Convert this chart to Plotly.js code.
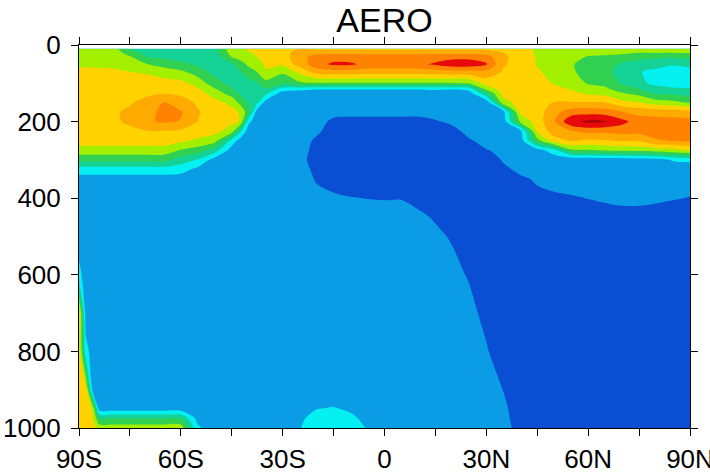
<!DOCTYPE html>
<html><head><meta charset="utf-8">
<script src="https://cdn.plot.ly/plotly-3.0.1.min.js"></script>
<style>html,body{margin:0;padding:0;background:#fff}</style>
</head><body>
<div id="chart" style="width:710px;height:475px"></div>
<script>
// Latitudes (deg, negative = S) and pressure levels (hPa)
const lat = [-90,-88,-86,-84,-80,-75,-70,-65,-60,-55,-50,-45,-42.5,-40,-37.5,-35,-30,-25,-20,-15,-10,-5,0,5,10,15,20,25,30,35,40,45,50,55,60,65,70,75,80,85,90];
const pressure = [10,20,30,50,70,100,115,125,150,175,200,225,250,275,300,325,350,400,450,500,600,700,800,900,950,975,1000];

// One vertical profile per latitude (band units)
const p90S = [5.5,5.6,5.7,5.85,6.2,6.5,6.6,6.6,6.7,6.7,6.7,6.6,6.45,5.6,4.3,2.5,1.6,1.5,1.5,1.5,2.3,6.6,6.7,6.7,6.7,6.7,6.7];
const p88S = [5.5,5.6,5.7,5.85,6.2,6.5,6.6,6.6,6.7,6.7,6.7,6.6,6.45,5.6,4.3,2.5,1.6,1.5,1.5,1.5,1.5,1.5,2.4,6.4,6.6,6.6,6.6];
const p86S = [5.5,5.6,5.7,5.85,6.2,6.5,6.6,6.65,6.75,6.75,6.75,6.65,6.45,5.6,4.3,2.5,1.6,1.5,1.5,1.5,1.5,1.5,1.5,1.8,5.9,6.2,6.4];
const p84S = [5.45,5.55,5.65,5.8,6.2,6.5,6.6,6.65,6.8,6.8,6.8,6.65,6.45,5.6,4.3,2.5,1.6,1.5,1.5,1.5,1.5,1.5,1.5,1.5,1.5,4.0,5.6];
const p80S = [5.4,5.5,5.6,5.8,6.15,6.5,6.6,6.65,6.8,6.85,6.85,6.7,6.45,5.6,4.3,2.5,1.6,1.5,1.5,1.5,1.5,1.5,1.5,1.5,1.5,4.0,5.6];
const p75S = [4.0,4.6,5.05,5.55,6.0,6.4,6.55,6.65,6.9,7.2,7.15,6.8,6.45,5.6,4.3,2.5,1.6,1.5,1.5,1.5,1.5,1.5,1.5,1.5,1.5,4.0,5.6];
const p70S = [3.4,3.6,3.9,5.02,5.9,6.35,6.6,6.8,7.3,7.6,7.9,6.95,6.45,5.6,4.3,2.5,1.6,1.5,1.5,1.5,1.5,1.5,1.5,1.5,1.5,4.0,5.6];
const p65S = [3.3,3.5,3.75,4.6,5.55,6.35,6.7,6.9,8.05,8.3,8.1,6.95,6.45,5.6,4.3,2.5,1.6,1.5,1.5,1.5,1.5,1.5,1.5,1.5,1.5,4.0,5.6];
const p60S = [3.2,3.4,3.6,4.2,5.2,6.3,6.6,6.8,7.4,8.1,7.95,6.8,6.2,4.9,3.5,2.4,1.5,1.5,1.5,1.5,1.5,1.5,1.5,1.5,1.5,4.0,5.6];
const p55S = [3.1,3.2,3.4,3.85,4.5,5.6,6.1,6.4,6.85,7.1,6.98,6.6,5.8,4.5,2.9,1.7,1.5,1.5,1.5,1.5,1.5,1.5,1.5,1.5,1.5,1.6,2.2];
const p50S = [3.9,3.6,3.45,3.4,3.7,4.4,5.1,5.5,6.3,6.5,6.5,6.3,5.4,3.5,1.5,1.5,1.5,1.5,1.5,1.5,1.5,1.5,1.5,1.5,1.5,1.5,1.5];
const p45S = [5.6,5.4,5.1,3.8,3.5,3.7,4.1,4.5,5.7,6.3,6.25,5.5,2.6,1.5,1.5,1.5,1.5,1.5,1.5,1.5,1.5,1.5,1.5,1.5,1.5,1.5,1.5];
const p42S = [5.85,5.65,5.4,4.6,3.95,3.5,3.6,3.8,4.7,5.9,5.95,3.2,1.5,1.5,1.5,1.5,1.5,1.5,1.5,1.5,1.5,1.5,1.5,1.5,1.5,1.5,1.5];
const p40S = [6.1,5.95,5.7,5.2,4.6,3.6,3.4,3.5,3.9,4.3,2.2,1.4,1.5,1.5,1.5,1.5,1.5,1.5,1.5,1.5,1.5,1.5,1.5,1.5,1.5,1.5,1.5];
const p37S = [6.2,6.1,6.02,5.6,5.02,3.9,3.6,3.5,3.2,1.5,1.5,1.5,1.5,1.5,1.5,1.5,1.5,1.5,1.5,1.5,1.5,1.5,1.5,1.5,1.5,1.5,1.5];
const p35S = [6.3,6.3,6.25,6.15,5.9,4.6,3.9,3.3,1.6,1.5,1.5,1.5,1.5,1.5,1.5,1.5,1.5,1.5,1.5,1.5,1.5,1.5,1.5,1.5,1.5,1.5,1.5];
const p30S = [6.5,6.55,6.5,6.2,5.2,4.1,2.6,1.6,1.5,1.5,1.5,1.5,1.5,1.5,1.5,1.5,1.5,1.5,1.5,1.5,1.5,1.5,1.5,1.5,1.5,1.6,1.7];
const p25S = [7.05,7.5,7.7,7.4,6.3,4.8,2.3,1.5,1.5,1.5,1.5,1.5,1.5,1.5,1.3,1.5,1.5,1.5,1.5,1.5,1.5,1.5,1.5,1.5,1.7,1.85,1.95];
const p20S = [6.8,7.6,8.3,8.6,7.5,4.9,2.1,1.3,1.4,1.4,1.35,1.2,0.8,0.6,0.6,0.7,0.9,1.3,1.5,1.5,1.5,1.5,1.5,1.5,1.98,2.3,2.5];
const p15S = [6.8,7.6,8.5,9.2,7.6,4.9,2.1,1.3,1.35,1.3,0.8,0.5,0.5,0.5,0.5,0.5,0.5,1.2,1.5,1.5,1.5,1.5,1.5,1.5,2.05,2.3,2.5];
const p10S = [6.8,7.6,8.5,9.15,7.6,4.9,2.1,1.3,1.35,1.3,0.7,0.4,0.4,0.4,0.4,0.4,0.4,1.05,1.4,1.5,1.5,1.5,1.5,1.5,1.9,2.15,2.3];
const p05S = [6.8,7.6,8.4,8.7,7.5,4.9,2.1,1.3,1.35,1.3,0.7,0.4,0.4,0.4,0.4,0.4,0.4,0.98,1.4,1.5,1.5,1.5,1.5,1.5,1.6,1.8,1.95];
const pEq  = [6.8,7.6,8.4,8.7,7.5,4.9,2.1,1.3,1.35,1.3,0.7,0.4,0.4,0.4,0.4,0.4,0.4,0.95,1.4,1.5,1.5,1.5,1.5,1.5,1.5,1.55,1.6];
const p05N = [6.8,7.6,8.4,8.7,7.5,4.9,2.1,1.3,1.35,1.3,0.7,0.4,0.4,0.4,0.4,0.4,0.4,0.95,1.5,1.5,1.5,1.5,1.5,1.5,1.5,1.5,1.5];
const p10N = [6.8,7.6,8.4,8.75,7.5,4.9,2.1,1.3,1.35,1.3,0.7,0.4,0.4,0.4,0.4,0.4,0.4,0.7,1.2,1.5,1.5,1.5,1.5,1.5,1.5,1.5,1.5];
const p15N = [6.8,7.6,8.5,9.15,7.6,4.9,2.2,1.4,1.4,1.4,0.9,0.5,0.4,0.4,0.4,0.4,0.4,0.4,0.9,1.2,1.5,1.5,1.5,1.5,1.5,1.5,1.5];
const p20N = [6.8,7.6,8.6,9.6,7.7,4.9,2.1,1.4,1.4,1.4,1.2,0.7,0.4,0.4,0.4,0.4,0.4,0.4,0.4,0.9,1.3,1.5,1.5,1.5,1.5,1.5,1.5];
const p25N = [6.8,7.6,8.6,9.6,7.7,5.05,2.4,1.6,1.4,1.4,1.4,1.3,0.9,0.4,0.4,0.4,0.4,0.4,0.4,0.4,0.9,1.3,1.5,1.5,1.5,1.5,1.5];
const p30N = [6.8,7.5,8.4,9.1,7.7,6.4,5.3,3.95,1.3,1.4,1.4,1.4,1.3,0.95,0.4,0.4,0.4,0.4,0.4,0.4,0.4,0.7,1.1,1.4,1.4,1.4,1.4];
const p35N = [6.8,7.0,7.15,7.1,6.9,6.6,6.5,6.4,5.6,1.6,1.4,1.4,1.3,1.2,1.1,0.8,0.4,0.4,0.4,0.4,0.4,0.4,0.4,0.98,1.2,1.25,1.3];
const p40N = [6.6,6.6,6.6,6.6,6.6,6.6,6.55,6.5,6.4,6.2,5.2,1.6,1.4,1.3,1.25,1.2,0.85,0.4,0.4,0.4,0.4,0.4,0.4,0.4,0.5,0.6,0.7];
const p45N = [5.8,5.85,5.9,5.95,6.1,6.3,6.4,6.45,6.5,6.5,6.45,6.2,4.6,1.5,1.3,1.2,1.1,0.8,0.4,0.4,0.4,0.4,0.4,0.4,0.4,0.4,0.4];
const p50N = [5.5,5.5,5.55,5.6,5.7,5.95,6.2,6.4,7.05,7.7,7.95,7.5,6.5,2.6,1.3,1.4,1.4,0.8,0.4,0.4,0.4,0.4,0.4,0.4,0.4,0.4,0.4];
const p55N = [5.4,5.3,5.15,5.1,5.2,5.6,5.95,6.2,7.05,8.5,9.8,7.9,7.1,4.8,1.1,1.4,1.5,0.9,0.4,0.4,0.4,0.4,0.4,0.4,0.4,0.4,0.4];
const p60N = [5.3,5.15,4.98,4.6,4.5,4.9,5.45,5.8,7.05,8.6,10.2,8.3,6.8,4.9,1.2,1.4,1.5,1.02,0.6,0.4,0.4,0.4,0.4,0.4,0.4,0.4,0.4];
const p65N = [5.25,5.1,4.95,4.5,4.3,4.7,5.2,5.6,7.02,8.5,10.1,8.2,6.9,5.05,1.3,1.4,1.5,1.1,0.7,0.4,0.4,0.4,0.4,0.4,0.4,0.4,0.4];
const p70N = [5.4,5.2,4.7,3.8,3.6,3.9,4.5,5.02,6.3,8.05,9.3,8.4,7.1,5.2,1.3,1.4,1.5,1.2,0.7,0.4,0.4,0.4,0.4,0.4,0.4,0.4,0.4];
const p75N = [5.3,5.02,4.5,3.4,3.05,3.2,4.02,4.6,6.02,7.7,8.5,8.4,7.1,5.3,1.4,1.4,1.5,1.2,0.7,0.4,0.4,0.4,0.4,0.4,0.4,0.4,0.4];
const p80N = [5.3,5.05,4.3,3.3,2.8,2.8,3.3,3.8,5.5,7.6,8.4,8.4,7.9,5.5,1.5,1.4,1.45,1.15,0.6,0.4,0.4,0.4,0.4,0.4,0.4,0.4,0.4];
const p85N = [5.35,5.02,4.2,3.1,2.5,2.5,3.2,3.7,5.3,7.5,8.4,8.5,8.05,5.7,2.1,1.4,1.4,1.05,0.6,0.4,0.4,0.4,0.4,0.4,0.4,0.4,0.4];
const p90N = [5.4,5.1,4.4,3.3,2.6,2.5,3.1,3.55,4.9,7.4,8.3,8.5,8.1,6.05,2.2,1.4,1.3,0.97,0.6,0.4,0.4,0.4,0.4,0.4,0.4,0.4,0.4];

const profiles = [p90S,p88S,p86S,p84S,p80S,p75S,p70S,p65S,p60S,p55S,p50S,p45S,p42S,p40S,p37S,p35S,p30S,p25S,p20S,p15S,p10S,p05S,pEq,p05N,p10N,p15N,p20N,p25N,p30N,p35N,p40N,p45N,p50N,p55N,p60N,p65N,p70N,p75N,p80N,p85N,p90N];

// Contour levels and fill colours (lowest band first)
const levelStart = 1, levelEnd = 10, levelStep = 1;
const bandColors = ['#0a4ed4','#0a9de6','#05f0f0','#14d296','#30d050','#a2f000','#ffd200','#ffaa00','#ff8200','#e80a0a','#a50000'];

// Tick values / labels
const latTickVals = [-90,-75,-60,-45,-30,-15,0,15,30,45,60,75,90];
const latTickText = ['90S','','60S','','30S','','0','','30N','','60N','','90N'];
const presTickVals = [0,200,400,600,800,1000];

const nb = bandColors.length - 1;
const colorscale = [];
bandColors.forEach((c, k) => {
  colorscale.push([Math.max(0, (k - 0.5) / nb), c]);
  colorscale.push([Math.min(1, (k + 0.5) / nb), c]);
});

const font = 'Liberation Sans, Arial, Helvetica, sans-serif';
const trace = {
  type: 'contour',
  x: lat, y: pressure, z: profiles, transpose: true,
  autocontour: false,
  contours: {start: levelStart, end: levelEnd, size: levelStep, coloring: 'fill', showlines: false},
  line: {width: 0, smoothing: 0.9},
  colorscale: colorscale,
  showscale: false,
  hoverinfo: 'skip'
};

const axisCommon = {
  ticks: 'outside', ticklen: 7, tickwidth: 1, tickcolor: '#000',
  showline: true, linecolor: '#000', linewidth: 1, mirror: 'ticks',
  showgrid: false, zeroline: false, ticklabeloverflow: 'allow',
  tickfont: {family: font, size: 26, color: '#000'}
};

const layout = {
  width: 710, height: 475,
  margin: {l: 79, r: 20, t: 45, b: 47},
  paper_bgcolor: '#fff', plot_bgcolor: '#fff',
  title: {text: 'AERO', font: {family: font, size: 34, color: '#000'}, x: 0.5415, xanchor: 'center', xref: 'container', y: 0.958, yref: 'container', yanchor: 'middle'},
  xaxis: Object.assign({}, axisCommon, {range: [-90, 90], tickmode: 'array', tickvals: latTickVals, ticktext: latTickText, ticklabelstandoff: 1}),
  yaxis: Object.assign({}, axisCommon, {range: [1000, 0], tickmode: 'array', tickvals: presTickVals, ticklabelstandoff: 5}),
  showlegend: false
};

Plotly.newPlot('chart', [trace], layout, {displayModeBar: false, staticPlot: true});
</script>
</body></html>
